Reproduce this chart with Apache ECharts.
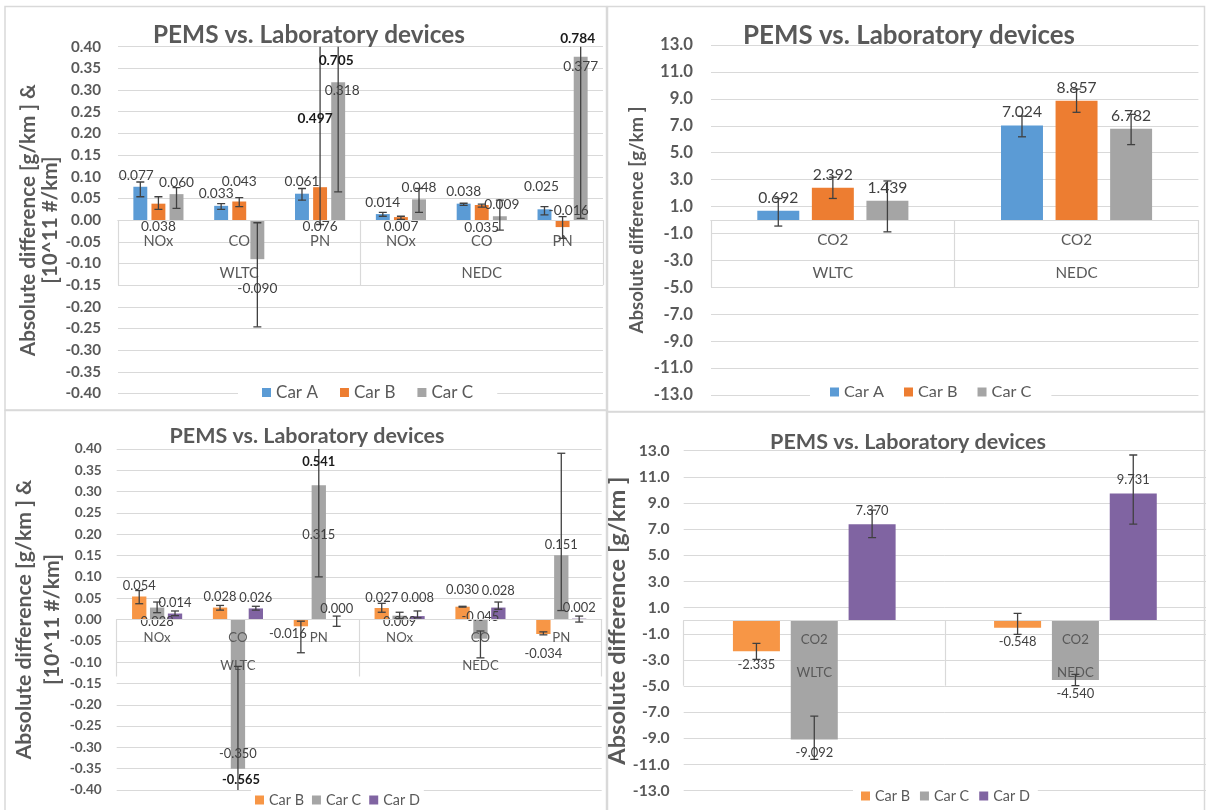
<!DOCTYPE html>
<html><head><meta charset="utf-8">
<script src="https://cdn.jsdelivr.net/npm/echarts@6/dist/echarts.min.js"></script>
<style>html,body{margin:0;padding:0;background:#fff}#c{width:1206px;height:810px}</style>
</head><body><div id="c"></div>
<script>
// ================= DATA =================
// --- Top-left panel: NOx / CO / PN, Cars A-C ---
const tlCategories = ['NOx', 'CO', 'PN', 'NOx', 'CO', 'PN'];
const tlCycles = ['WLTC', 'NEDC'];
const tlCars = ['Car A', 'Car B', 'Car C'];
const tlCarA = [0.077, 0.033, 0.061, 0.014, 0.038, 0.025];
const tlCarB = [0.038, 0.043, 0.076, 0.007, 0.035, -0.016];
const tlCarC = [0.060, -0.090, 0.318, 0.048, 0.009, 0.377];
const tlCarALow = [0.054, 0.025, 0.046, 0.009, 0.034, 0.012];
const tlCarAHigh = [0.088, 0.038, 0.073, 0.018, 0.039, 0.031];
const tlCarBLow = [0.025, 0.031, -0.010, 0.002, 0.030, -0.042];
const tlCarBHigh = [0.054, 0.052, 0.497, 0.009, 0.037, 0.008];
const tlCarCLow = [0.027, -0.246, 0.065, 0.018, -0.023, 0.004];
const tlCarCHigh = [0.075, -0.006, 0.705, 0.073, 0.046, 0.784];
const tlYTicks = { min: -0.40, max: 0.40, step: 0.05, decimals: 2 };

// --- Top-right panel: CO2, Cars A-C ---
const trCategories = ['CO2', 'CO2'];
const trCycles = ['WLTC', 'NEDC'];
const trCars = ['Car A', 'Car B', 'Car C'];
const trCarA = [0.692, 7.024];
const trCarB = [2.392, 8.857];
const trCarC = [1.439, 6.782];
const trCarALow = [-0.45, 6.18];
const trCarAHigh = [1.60, 7.72];
const trCarBLow = [1.60, 8.00];
const trCarBHigh = [3.18, 9.72];
const trCarCLow = [-0.88, 5.60];
const trCarCHigh = [2.90, 7.85];
const trYTicks = { min: -13, max: 13, step: 2, decimals: 1 };

// --- Bottom-left panel: NOx / CO / PN, Cars B-D ---
const blCategories = ['NOx', 'CO', 'PN', 'NOx', 'CO', 'PN'];
const blCycles = ['WLTC', 'NEDC'];
const blCars = ['Car B', 'Car C', 'Car D'];
const blCarB = [0.054, 0.028, -0.016, 0.027, 0.030, -0.034];
const blCarC = [0.028, -0.350, 0.315, 0.009, -0.045, 0.151];
const blCarD = [0.014, 0.026, 0.000, 0.008, 0.028, 0.002];
const blCarBLow = [0.037, 0.022, -0.078, 0.017, 0.029, -0.036];
const blCarBHigh = [0.068, 0.033, -0.004, 0.038, 0.031, -0.029];
const blCarCLow = [0.016, -0.565, 0.100, 0.002, -0.090, 0.021];
const blCarCHigh = [0.041, -0.110, 0.541, 0.017, -0.027, 0.390];
const blCarDLow = [0.009, 0.022, -0.016, 0.004, 0.024, -0.006];
const blCarDHigh = [0.020, 0.031, 0.008, 0.020, 0.041, 0.008];
const blYTicks = { min: -0.40, max: 0.40, step: 0.05, decimals: 2 };

// --- Bottom-right panel: CO2, Cars B-D ---
const brCategories = ['CO2', 'CO2'];
const brCycles = ['WLTC', 'NEDC'];
const brCars = ['Car B', 'Car C', 'Car D'];
const brCarB = [-2.335, -0.548];
const brCarC = [-9.092, -4.540];
const brCarD = [7.370, 9.731];
const brCarBLow = [-2.95, -1.04];
const brCarBHigh = [-1.73, 0.56];
const brCarCLow = [-10.60, -4.97];
const brCarCHigh = [-7.29, -4.10];
const brCarDLow = [6.35, 7.39];
const brCarDHigh = [8.46, 12.67];
const brYTicks = { min: -13, max: 13, step: 2, decimals: 1 };

// Error-bar end values that are printed in bold (car index, category index, which end)
const tlBoldNotes = [{ car: 1, cat: 2, end: 'high' }, { car: 2, cat: 2, end: 'high' }, { car: 2, cat: 5, end: 'high' }];
const blBoldNotes = [{ car: 1, cat: 2, end: 'high' }, { car: 1, cat: 1, end: 'low' }];

const titleText = 'PEMS vs. Laboratory devices';
const yTitleEmissions = ['Absolute difference [g/km ] &', '[10^11 #/km]'];
const yTitleCO2 = ['Absolute difference [g/km ]'];

// ================= STYLE / LAYOUT =================
const FONT = 'Lato, "Open Sans", sans-serif';
const GRID_COLOR = '#d9d9d9';
const TEXT = '#595959';
const LABEL = '#404040';
const colorsABC = ['#5B9BD5', '#ED7D31', '#A5A5A5'];
const colorsBCD = ['#F79646', '#A5A5A5', '#8064A2'];

// font size that makes a sample string reach a target pixel width
const mctx = document.createElement('canvas').getContext('2d');
function fit(text, weight, target) {
  mctx.font = weight + ' 100px Lato';
  return +(100 * target / mctx.measureText(text).width).toFixed(2);
}

const panels = [
  { // top-left
    grid: { left: 118, top: 46.7, width: 485, height: 346.9 },
    cats: tlCategories, cycles: tlCycles, cars: tlCars, colors: colorsABC,
    values: [tlCarA, tlCarB, tlCarC], lows: [tlCarALow, tlCarBLow, tlCarCLow], highs: [tlCarAHigh, tlCarBHigh, tlCarCHigh],
    y: tlYTicks, yFont: fit('0.40', 'bold', 30), yMargin: 17,
    yName: yTitleEmissions, yNameFont: fit(yTitleEmissions[0], 'bold', 272), yNameLH: 22, yNameGap: 55,
    title: { x: 309, y: 34, size: fit(titleText, 'bold', 312) },
    catMargin: 14, cycleMargin: 46, catFont: fit('NOx', 'normal', 30), tickLen: 65,
    barCatGap: 0.38, barGap: 0.30, labelFont: fit('0.077', 'normal', 35), labelDist: 5,
    place: {
      '0:0': { offset: [-4, 1] }, '0:1': { offset: [-5, 0] }, '0:5': { distance: 16, offset: [-3, 0] },
      '1:0': { position: 'bottom', distance: -1 }, '1:1': { distance: 13 }, '1:2': { position: 'bottom', distance: -1 },
      '1:3': { position: 'bottom', distance: -1 }, '1:4': { position: 'bottom', distance: 0 }, '1:5': { position: 'top', distance: 3, offset: [6, 0] },
      '2:1': { distance: 22 }, '2:2': { position: 'insideTop', distance: 1, offset: [4, 0] }, '2:5': { position: 'insideTop', distance: 3 },
      '2:4': { offset: [2, 0] }
    },
    notes: tlBoldNotes, noteAt: [0.235, 0.369, 0.419], noteDx: [-5, -2, -3],
    legend: { left: 238, top: 380, padding: [4, 24], gap: 22, font: fit('Car A', 'normal', 42) }
  },
  { // top-right
    grid: { left: 711, top: 45, width: 487.4, height: 350 },
    cats: trCategories, cycles: trCycles, cars: trCars, colors: colorsABC,
    values: [trCarA, trCarB, trCarC], lows: [trCarALow, trCarBLow, trCarCLow], highs: [trCarAHigh, trCarBHigh, trCarCHigh],
    y: trYTicks, yFont: fit('13.0', 'bold', 33), yMargin: 18,
    yName: yTitleCO2, yNameFont: fit(yTitleCO2[0], 'bold', 227), yNameLH: 20, yNameGap: 64,
    title: { x: 909, y: 35, size: fit(titleText, 'bold', 332) },
    catMargin: 13, cycleMargin: 46, catFont: fit('CO2', 'normal', 31), tickLen: 67,
    barCatGap: 0.38, barGap: 0.30, labelFont: fit('0.692', 'normal', 40), labelDist: 5,
    place: {},
    notes: [], noteAt: [], noteDx: [],
    legend: { left: 810, top: 380, padding: [4, 20], gap: 20, font: fit('Car A', 'normal', 40) }
  },
  { // bottom-left
    grid: { left: 116.7, top: 449, width: 485, height: 341 },
    cats: blCategories, cycles: blCycles, cars: blCars, colors: colorsBCD,
    values: [blCarB, blCarC, blCarD], lows: [blCarBLow, blCarCLow, blCarDLow], highs: [blCarBHigh, blCarCHigh, blCarDHigh],
    y: blYTicks, yFont: fit('0.40', 'bold', 27), yMargin: 15,
    yName: yTitleEmissions, yNameFont: fit(yTitleEmissions[0], 'bold', 280), yNameLH: 28, yNameGap: 50,
    title: { x: 307, y: 435, size: fit(titleText, 'bold', 275) },
    catMargin: 12, cycleMargin: 40, catFont: fit('NOx', 'normal', 27), tickLen: 57,
    barCatGap: 0.38, barGap: 0.25, labelFont: fit('0.054', 'normal', 33), labelDist: 4,
    place: {
      '1:0': { position: 'bottom', distance: -4 }, '1:1': { position: 'insideBottom', distance: 8 },
      '0:2': { distance: 1, offset: [-13, 0] }, '1:2': { position: 'insideTop', distance: 43 },
      '2:3': { distance: 12 }, '1:3': { position: 'bottom', distance: -4 },
      '0:4': { distance: 10 }, '1:4': { position: 'top', distance: -4 }, '2:4': { distance: 10 },
      '0:5': { distance: 13 }
    },
    notes: blBoldNotes, noteAt: [0.369, -0.376], noteDx: [0, 3],
    legend: { left: 251, top: 790, padding: [3, 4], gap: 8, font: fit('Car B', 'normal', 35) }
  },
  { // bottom-right
    grid: { left: 683.7, top: 450.7, width: 526.3, height: 340 },
    cats: brCategories, cycles: brCycles, cars: brCars, colors: colorsBCD,
    values: [brCarB, brCarC, brCarD], lows: [brCarBLow, brCarCLow, brCarDLow], highs: [brCarBHigh, brCarCHigh, brCarDHigh],
    y: brYTicks, yFont: fit('13.0', 'bold', 31), yMargin: 14,
    yName: yTitleCO2, yNameFont: fit(yTitleCO2[0], 'bold', 288), yNameLH: 24, yNameGap: 45,
    title: { x: 908, y: 440, size: fit(titleText, 'bold', 276) },
    catMargin: 13, cycleMargin: 46, catFont: fit('CO2', 'normal', 27), tickLen: 65,
    barCatGap: 0.377, barGap: 0.23, labelFont: fit('7.370', 'normal', 33), labelDist: 7,
    place: {},
    notes: [], noteAt: [], noteDx: [],
    legend: { left: 853, top: 786, padding: [3, 8], gap: 10, font: fit('Car B', 'normal', 35) }
  }
];

// ================= BUILD OPTION =================
const option = {
  animation: false, backgroundColor: '#fff',
  textStyle: { fontFamily: FONT },
  title: [], legend: [], grid: [], xAxis: [], yAxis: [], series: [],
  graphic: [
    { type: 'rect', shape: { x: 5, y: 6.5, width: 601.5, height: 403.5 }, style: { fill: 'none', stroke: GRID_COLOR, lineWidth: 1.5 }, z: -10, silent: true },
    { type: 'rect', shape: { x: 607.5, y: 6.5, width: 597, height: 405 }, style: { fill: 'none', stroke: GRID_COLOR, lineWidth: 1.5 }, z: -10, silent: true },
    { type: 'rect', shape: { x: 5, y: 410.5, width: 601.5, height: 402 }, style: { fill: 'none', stroke: GRID_COLOR, lineWidth: 1.5 }, z: -10, silent: true },
    { type: 'rect', shape: { x: 607.5, y: 412, width: 597, height: 402 }, style: { fill: 'none', stroke: GRID_COLOR, lineWidth: 1.5 }, z: -10, silent: true }
  ]
};

const fmt = (v, d) => (Math.abs(v) < 1e-9 ? 0 : v).toFixed(d);

panels.forEach((p, gi) => {
  const n = p.cars.length;
  const w = (1 - p.barCatGap) / (n + (n - 1) * p.barGap);
  const k = w * (1 + p.barGap); // centre-to-centre distance of bars as share of band width
  // move the category axes up to the value 0 line (offset from the grid bottom)
  const zeroOffset = -p.grid.height * p.y.max / (p.y.max - p.y.min);

  option.grid.push(Object.assign({ containLabel: false }, p.grid));
  option.title.push({
    text: titleText, left: p.title.x, top: p.title.y - p.title.size * 0.62 + 4, textAlign: 'center', padding: 0,
    textStyle: { fontFamily: FONT, fontSize: p.title.size, fontWeight: 'bold', color: TEXT }
  });
  option.yAxis.push({
    type: 'value', gridIndex: gi, min: p.y.min, max: p.y.max, interval: p.y.step,
    axisLine: { show: false }, axisTick: { show: false },
    splitLine: { lineStyle: { color: GRID_COLOR, width: 1 } },
    axisLabel: { formatter: v => fmt(v, p.y.decimals), fontSize: p.yFont, fontWeight: 'bold', color: TEXT, margin: p.yMargin, fontFamily: FONT },
    name: p.yName.join('\n'), nameLocation: 'middle', nameRotate: 90, nameGap: p.yNameGap,
    nameTextStyle: { fontSize: p.yNameFont, fontWeight: 'bold', color: TEXT, lineHeight: p.yNameLH, fontFamily: FONT }
  });
  option.xAxis.push({
    type: 'category', gridIndex: gi, data: p.cats, position: 'bottom', offset: zeroOffset, z: 3,
    axisLine: { onZero: false, lineStyle: { color: GRID_COLOR, width: 1 } },
    axisTick: { show: false },
    axisLabel: { interval: 0, margin: p.catMargin, fontSize: p.catFont, color: TEXT, fontFamily: FONT }
  });
  option.xAxis.push({
    type: 'category', gridIndex: gi, data: p.cycles, position: 'bottom', offset: zeroOffset, z: 3,
    axisLine: { onZero: false, lineStyle: { color: GRID_COLOR, width: 1 } },
    axisTick: { show: true, length: p.tickLen, lineStyle: { color: GRID_COLOR, width: 1.2 } },
    axisLabel: { interval: 0, margin: p.cycleMargin, fontSize: p.catFont, color: TEXT, fontFamily: FONT }
  });
  const xi = gi * 2;

  p.cars.forEach((car, s) => {
    option.series.push({
      type: 'bar', name: car, xAxisIndex: xi, yAxisIndex: gi,
      barCategoryGap: (p.barCatGap * 100) + '%', barGap: (p.barGap * 100) + '%',
      itemStyle: { color: p.colors[s] },
      label: { show: true, distance: p.labelDist, fontSize: p.labelFont, color: LABEL, fontFamily: FONT, formatter: d => fmt(d.value, 3) },
      data: p.values[s].map((v, i) => ({
        value: v,
        label: Object.assign({ position: v >= 0 ? 'top' : 'bottom' }, p.place[s + ':' + i] || {})
      }))
    });
  });

  // error bars
  p.cars.forEach((car, s) => {
    const rel = s - (n - 1) / 2;
    option.series.push({
      type: 'custom', xAxisIndex: xi, yAxisIndex: gi, z: 5, clip: true, silent: true,
      data: p.lows[s].map((lo, i) => [i, lo, p.highs[s][i]]),
      encode: { x: 0, y: [1, 2] },
      renderItem: (params, api) => {
        const c = api.value(0);
        const a = api.coord([c, api.value(1)]);
        const b = api.coord([c, api.value(2)]);
        const band = api.size([1, 0])[0];
        const x = a[0] + rel * band * k;
        const cap = 4;
        const st = { stroke: '#404040', lineWidth: 1.3 };
        return {
          type: 'group', children: [
            { type: 'line', shape: { x1: x, y1: a[1], x2: x, y2: b[1] }, style: st },
            { type: 'line', shape: { x1: x - cap, y1: a[1], x2: x + cap, y2: a[1] }, style: st },
            { type: 'line', shape: { x1: x - cap, y1: b[1], x2: x + cap, y2: b[1] }, style: st }
          ]
        };
      }
    });
  });

  // bold error-end notes
  if (p.notes.length) {
    option.series.push({
      type: 'custom', xAxisIndex: xi, yAxisIndex: gi, z: 6, clip: false, silent: true,
      data: p.notes.map((nt, j) => [nt.cat, p.noteAt[j], j]),
      encode: { x: 0, y: 1 },
      renderItem: (params, api) => {
        const j = api.value(2);
        const nt = p.notes[j];
        const pt = api.coord([api.value(0), api.value(1)]);
        const band = api.size([1, 0])[0];
        const rel = nt.car - (n - 1) / 2;
        const val = nt.end === 'high' ? p.highs[nt.car][nt.cat] : p.lows[nt.car][nt.cat];
        return {
          type: 'text', x: pt[0] + rel * band * k + p.noteDx[j], y: pt[1],
          style: { text: fmt(val, 3), fill: '#1a1a1a', fontSize: p.labelFont, fontWeight: 'bold', fontFamily: FONT, align: 'center', verticalAlign: 'middle' }
        };
      }
    });
  }

  option.legend.push({
    left: p.legend.left, top: p.legend.top, padding: p.legend.padding, itemGap: p.legend.gap,
    itemWidth: 9, itemHeight: 9, icon: 'rect', backgroundColor: '#fff', z: 4,
    textStyle: { fontSize: p.legend.font, color: TEXT, fontFamily: FONT },
    data: p.cars.map((c, s) => ({ name: c, itemStyle: { color: p.colors[s] } })),
    selectedMode: false
  });
});

const chart = echarts.init(document.getElementById('c'), null, { renderer: 'canvas' });
chart.setOption(option);
</script>
</body></html>
